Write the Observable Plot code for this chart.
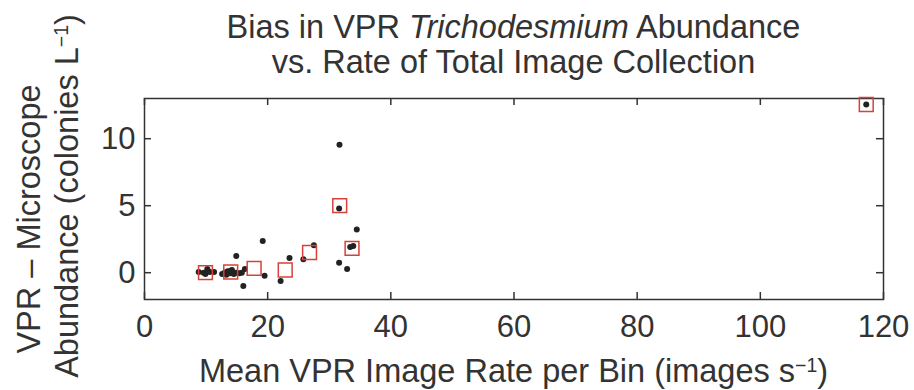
<!DOCTYPE html>
<html>
<head>
<meta charset="utf-8">
<script src="https://cdn.jsdelivr.net/npm/d3@7"></script>
<script src="https://cdn.jsdelivr.net/npm/@observablehq/plot@0.6"></script>
<style>
  html, body { margin: 0; padding: 0; background: #fff; }
  #chart svg { display: block; }
</style>
</head>
<body>
<div id="chart"></div>
<script>
// Individual bins: mean image rate (images/s) and VPR minus microscope abundance (colonies/L)
const binRate = [
  8.8, 9.6, 9.9, 10.2, 10.6, 11.3,
  12.6, 13.0, 13.3, 13.5, 13.9, 14.0, 14.2, 14.5, 14.9, 15.4, 15.8,
  14.9, 16.3, 16.05, 19.2, 19.5, 22.1, 23.55, 25.8, 27.5,
  31.66, 31.6, 31.6, 32.9, 33.4, 33.9, 34.47, 117.2
];
const binBias = [
  0.05, 0.0, -0.1, 0.27, 0.05, 0.05,
  -0.1, 0.0, -0.15, 0.1, -0.05, 0.15, 0.2, -0.1, 0.0, -0.05, 0.0,
  1.24, 0.27, -0.99, 2.36, -0.22, -0.62, 1.09, 1.0, 2.04,
  9.55, 4.79, 0.75, 0.27, 1.91, 2.0, 3.23, 12.55
];

// Grouped means (open red squares)
const meanRate = [9.9, 14.0, 17.8, 22.85, 26.8, 31.7, 33.7, 117.2];
const meanBias = [0.0, 0.05, 0.32, 0.2, 1.51, 5.01, 1.81, 12.55];

// Axis ticks
const xTicks = [0, 20, 40, 60, 80, 100, 120];
const yTicks = [0, 5, 10];

const bins = binRate.map((x, i) => ({x, y: binBias[i]}));
const means = meanRate.map((x, i) => ({x, y: meanBias[i]}));

const W = 914, H = 390;
const mL = 144, mR = 31, mT = 98, mB = 91;
const frameW = W - mL - mR, frameH = H - mT - mB;
const ink = "#333";
const font = "'Liberation Sans', Arial, Helvetica, sans-serif";
const tick = 7;

const chart = Plot.plot({
  width: W,
  height: H,
  marginLeft: mL,
  marginRight: mR,
  marginTop: mT,
  marginBottom: mB,
  style: {fontFamily: font, color: ink, background: "#fff"},
  x: {domain: [0, 120]},
  y: {domain: [-2, 13]},
  marks: [
    Plot.frame({stroke: ink, strokeWidth: 1.5}),
    // inward ticks on all four sides of the box
    Plot.tickX(xTicks, {x: d => d, stroke: ink, strokeWidth: 1.5, insetTop: frameH - tick}),
    Plot.tickX(xTicks, {x: d => d, stroke: ink, strokeWidth: 1.5, insetBottom: frameH - tick}),
    Plot.tickY(yTicks, {y: d => d, stroke: ink, strokeWidth: 1.5, insetRight: frameW - tick}),
    Plot.tickY(yTicks, {y: d => d, stroke: ink, strokeWidth: 1.5, insetLeft: frameW - tick}),
    Plot.axisX({ticks: xTicks, tickSize: 0, tickPadding: 15, fontSize: 31, label: null, fill: ink}),
    Plot.axisY({ticks: yTicks, tickSize: 0, tickPadding: 9, fontSize: 31, label: null, fill: ink}),
    Plot.dot(bins, {x: "x", y: "y", r: 3, fill: "#222", stroke: "none"}),
    Plot.dot(means, {x: "x", y: "y", symbol: "square", r: 7.8, stroke: "#d8413a", strokeWidth: 1.5, fill: "none"})
  ]
});

document.getElementById("chart").appendChild(chart);

// Title and axis labels
const svg = d3.select(chart);
const cx = mL + frameW / 2;
const fs = 32.5;

const t1 = svg.append("text")
  .attr("x", cx).attr("y", 38)
  .attr("text-anchor", "middle")
  .style("font-family", font).style("font-size", fs + "px").attr("fill", ink);
t1.append("tspan").text("Bias in VPR ");
t1.append("tspan").style("font-style", "italic").text("Trichodesmium");
t1.append("tspan").text(" Abundance");

svg.append("text")
  .attr("x", cx).attr("y", 73)
  .attr("text-anchor", "middle")
  .style("font-family", font).style("font-size", fs + "px").attr("fill", ink)
  .text("vs. Rate of Total Image Collection");

const xl = svg.append("text")
  .attr("x", cx).attr("y", 382)
  .attr("text-anchor", "middle")
  .style("font-family", font).style("font-size", fs + "px").attr("fill", ink);
xl.append("tspan").text("Mean VPR Image Rate per Bin (images s");
xl.append("tspan").attr("dy", "-0.5em").style("font-size", "0.6em").text("\u22121");
xl.append("tspan").attr("dy", "0.3em").text(")");

svg.append("text")
  .attr("transform", "translate(40,219) rotate(-90)")
  .attr("text-anchor", "middle")
  .style("font-family", font).style("font-size", fs + "px").attr("fill", ink)
  .text("VPR \u2013 Microscope");

const yl = svg.append("text")
  .attr("transform", "translate(78,196) rotate(-90)")
  .attr("text-anchor", "middle")
  .style("font-family", font).style("font-size", fs + "px").attr("fill", ink);
yl.append("tspan").text("Abundance (colonies L");
yl.append("tspan").attr("dy", "-0.5em").style("font-size", "0.6em").text("\u22121");
yl.append("tspan").attr("dy", "0.3em").text(")");
</script>
</body>
</html>
